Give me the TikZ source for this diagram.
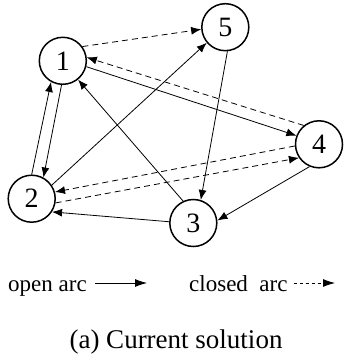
\documentclass[tikz,border=0pt]{standalone}
\usepackage{fontspec}
\setmainfont{Liberation Serif}
\usetikzlibrary{arrows.meta}

\tikzset{
  vertex/.style={circle,draw,line width=1.5pt,minimum size=47pt,inner sep=0pt,font=\fontsize{28}{28}\selectfont},
  arc/.style={line width=0.8pt,-{Latex[length=10pt,width=8pt]}},
  closedarc/.style={arc,dash pattern=on 6pt off 4pt}
}

\begin{document}
\begin{tikzpicture}[x=1pt,y=-1pt]
        \useasboundingbox (0,0) rectangle (344,358);
        % vertices
        \node[vertex] (n1) at (62.8,60.8) {1};
        \node[vertex] (n2) at (31.7,198.7) {2};
        \node[vertex] (n3) at (193.3,223) {3};
        \node[vertex] (n4) at (319,144.3) {4};
        \node[vertex] (n5) at (225.3,27.2) {5};
        % open arcs
        \draw[arc] (n2.90) -- (n1.241);
        \draw[arc] (n1.267) -- (n2.61);
        \draw[arc] (n1.-14) -- (n4.159);
        \draw[arc] (n2.34) -- (n5.220);
        \draw[arc] (n3.115) -- (n1.-51);
        \draw[arc] (n5.275) -- (n3.72);
        \draw[arc] (n4.247) -- (n3.6);
        \draw[arc] (n3.177) -- (n2.-33);
        % closed arcs
        \draw[closedarc] (n1.36) -- (n5.185);
        \draw[closedarc] (n4.129) -- (n1.8);
        \draw[closedarc] (n4.184) -- (n2.16);
        \draw[closedarc] (n2.-10) -- (n4.214);
        % legend
        \node[anchor=base west,inner sep=0pt,font=\fontsize{23}{23}\selectfont] (lopen) at (8,291) {open arc};
        \node[anchor=base west,inner sep=0pt,font=\fontsize{23}{23}\selectfont] (lclosed) at (189,291) {closed\ \ arc};
        \coordinate (eopen) at (147,283);
        \coordinate (eclosed) at (335,283);
        \draw[line width=0.8pt,-{Latex[length=12pt,width=8pt]}] ([xshift=8pt]lopen.east |- eopen) -- (eopen);
        \draw[line width=0.8pt,dash pattern=on 3.5pt off 2.5pt,-{Latex[length=12pt,width=8pt]}] ([xshift=6pt]lclosed.east |- eclosed) -- (eclosed);
        \node[anchor=base,inner sep=0pt,font=\fontsize{27}{27}\selectfont] (caption) at (176,348) {(a) Current solution};
\end{tikzpicture}
\end{document}
